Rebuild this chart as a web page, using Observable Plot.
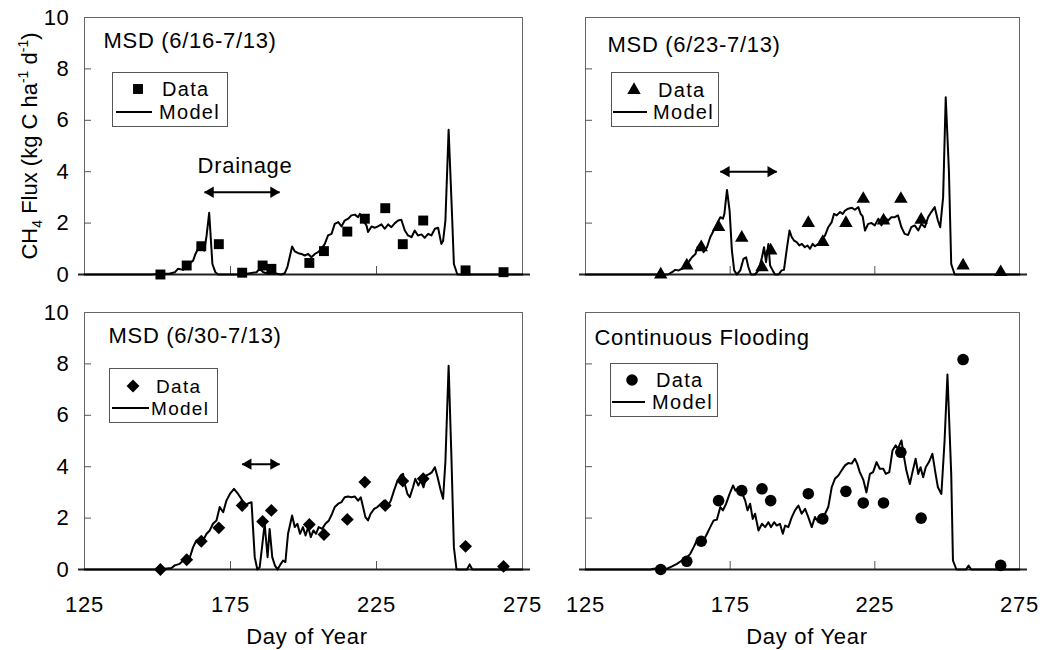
<!DOCTYPE html>
<html>
<head>
<meta charset="utf-8">
<script src="https://cdn.jsdelivr.net/npm/d3@7"></script>
<script src="https://cdn.jsdelivr.net/npm/@observablehq/plot@0.6"></script>
<style>
  body { margin: 0; background: #fff; }
  #chart { position: relative; width: 1040px; height: 650px; background: #fff;
           font-family: "Liberation Sans", Arial, sans-serif; }
  #chart svg.plot { position: absolute; overflow: visible; }
  #chart svg text { letter-spacing: 0.7px; }
  #overlay { position: absolute; left: 0; top: 0; pointer-events: none; }
</style>
</head>
<body>
<div id="chart"></div>
<script>
// ---------------- data ----------------
const sampleDays = [151, 160, 165, 171, 179, 186, 189, 202, 207, 215, 221, 228, 234, 241, 255.5, 268.5];
const yTicks = [0, 2, 4, 6, 8, 10];
const xTicks = [125, 175, 225, 275];
const panelTitles = ["MSD (6/16-7/13)", "MSD (6/23-7/13)", "MSD (6/30-7/13)", "Continuous Flooding"];
const legendLabels = ["Data", "Model"];
const yLabelParts = ["CH", "4", " Flux (kg C ha", "-1", " d", "-1", ")"];
const xLabel = "Day of Year";
const drainLabel = "Drainage";

// measured CH4 flux (kg C ha-1 d-1)
const data616 = [0, 0.35, 1.1, 1.18, 0.07, 0.35, 0.22, 0.45, 0.91, 1.67, 2.17, 2.58, 1.18, 2.1, 0.16, 0.09];
const data623 = [0, 0.35, 1.06, 1.84, 1.43, 0.28, 0.93, 2.0, 1.26, 2.0, 2.94, 2.1, 2.94, 2.13, 0.35, 0.09];
const data630 = [0, 0.38, 1.1, 1.62, 2.49, 1.87, 2.3, 1.75, 1.36, 1.95, 3.4, 2.49, 3.44, 3.53, 0.9, 0.12];
const dataCF  = [0, 0.32, 1.1, 2.68, 3.07, 3.14, 2.68, 2.95, 1.97, 3.04, 2.59, 2.59, 4.56, 2.0, 8.17, 0.16];

// modelled CH4 flux
const modelDays616 = [125,148,151,154,156,157,158.8,160.5,162.2,163,163.9,165,166,166.8,167.7,168.8,169.8,170.8,179,183.9,185,186.2,188,190,192.4,193.6,194.5,196.1,197,198.2,199.3,200.4,201.6,202.7,203.9,205,206.1,207.3,208.4,209.6,210.7,211.9,213,214.1,215.3,216.4,217.6,218.7,219.3,220.4,221.6,222.1,223.3,224.4,225.5,226.7,227.8,229,230.1,231.3,232.4,233.5,234.7,235.8,237,238.1,239.2,240.4,241.5,242.7,243.8,245,246.1,247.2,247.8,248.6,249.7,250.9,251.5,252.7,275];
const modelFlux616 = [0,0,0.03,0.03,0.09,0.22,0.18,0.39,0.54,0.8,1.0,1.13,0.93,1.5,2.4,0.41,0.09,0,0,0.09,0.22,0.09,0.03,0.05,0,0.05,0.3,1.09,0.9,0.83,0.8,0.74,0.8,0.67,0.8,0.87,1.0,1.19,1.52,1.58,1.97,2.04,1.87,2.1,2.17,2.3,2.33,2.23,2.36,2.1,1.9,1.65,1.87,1.82,1.87,1.95,1.78,1.95,1.84,2.0,2.1,2.13,1.71,1.52,1.45,1.71,1.52,1.56,1.43,1.58,1.52,1.78,1.82,1.19,1.3,2.1,5.63,2.23,0.41,0,0];

const modelDays623 = [125,153.5,154.9,156,157.2,158.3,159.5,160.6,161.8,163,163.7,164.7,165.8,167,168.1,169.3,170.4,171.6,172.5,173,173.9,174.8,175.6,176.4,177.3,178.5,179.6,180.5,181.3,182.2,183.6,184.8,186,186.7,187.4,188.2,188.8,189.7,190.5,191.7,192.8,193.6,194.5,195.5,196.3,197.1,198,198.9,199.8,200.8,201.7,202.6,203.5,204.3,205.5,206.6,207.8,208.9,210.1,210.9,211.8,213,213.9,214.7,215.8,217,218.1,219.3,220.1,220.8,221.6,222.7,223.9,225,226.2,227.3,228.4,229.6,230.7,231.9,233,234.2,235.3,236.5,237.6,238.8,240,241.1,242.3,243.4,244.5,245.7,246.8,247.6,248.6,249.5,250.6,251.4,252.6,275];
const modelFlux623 = [0,0,0.09,0.18,0.16,0.22,0.29,0.48,0.67,0.8,1.06,1.19,0.87,1.06,1.45,1.71,1.97,2.23,2.17,2.36,3.29,2.49,0.93,0.16,0,0.16,0.61,0.67,0.29,0,0,0.16,0.67,1.06,0.48,1.19,0.35,0.16,0,0,0.16,0.18,0.93,1.71,1.45,1.32,1.26,1.13,1.19,1.06,1.13,1.0,1.19,1.1,1.19,1.39,1.52,1.84,2.04,2.36,2.3,2.43,2.36,2.49,2.56,2.6,2.52,2.62,2.36,2.26,1.71,1.97,2.0,1.91,2.17,1.91,2.23,2.1,2.23,2.23,2.3,1.84,1.58,1.54,1.84,1.91,1.71,1.97,1.84,2.23,2.43,2.62,2.1,1.84,3.0,6.9,4.05,0.41,0,0];

const modelDays630 = [125,151.3,152.5,154.8,155.9,157.6,158.8,159.9,161.1,162.2,163.3,164.5,165.6,166.8,167.9,169,170.2,171.3,172.5,173.6,174.8,176.2,177.6,178.7,179.9,180.8,182.2,182.7,183.3,184.2,185,185.8,186.7,187.7,188.4,189.3,190.2,191.1,191.9,193,193.8,194.7,196.1,197,197.9,198.8,199.8,200.7,201.6,202.5,203.4,204.3,205.2,206.4,207.5,208.7,209.8,210.7,211.9,213,214.1,215.3,216.4,217.6,218.7,219.6,220.4,221.2,222.1,223,224.2,225.3,226.5,227.6,228.7,229.9,231,232.2,233.3,234.1,234.7,235.6,236.4,237.5,238.3,239.3,240.2,241.1,242.1,243.2,244,245,245.9,247,247.8,248.6,249.7,250.7,251.5,252.4,256,256.9,257.8,275];
const modelFlux630 = [0,0,0.03,0.06,0.16,0.22,0.35,0.42,0.48,0.87,1.13,1.06,1.13,1.39,1.52,1.78,1.91,2.43,2.23,2.68,2.94,3.14,2.94,2.75,2.43,2.56,2.62,1.65,0.48,0,0.09,0.87,1.78,0.48,1.58,0.48,0.16,0,0.16,0.35,0.29,1.39,2.1,1.65,1.78,1.39,1.65,1.32,1.65,1.26,1.52,1.39,1.65,1.58,1.78,1.91,2.17,2.43,2.56,2.62,2.81,2.84,2.81,2.84,2.68,2.81,2.43,2.04,1.91,2.17,2.36,2.43,2.56,2.68,2.43,2.68,3.07,3.46,3.66,3.72,3.33,2.94,2.81,3.2,3.53,3.27,3.46,3.2,3.66,3.72,3.79,3.98,3.6,3.07,2.75,4.2,7.93,4.2,0.87,0,0,0.2,0,0];

const modelDaysCF = [125,147.4,148.6,150.9,153.2,154.9,156.6,158.3,160.1,161.2,162.4,163.5,164.7,165.8,167,168.1,169.3,170.4,171.6,172.5,173.6,174.8,176,176.8,177.9,179,180.2,181,181.9,182.8,183.6,184.8,186,187.1,188.2,189.1,190.2,191.1,192.2,193.2,194,195.1,196.3,197.4,198.6,199.7,200.9,202,203.2,204.3,205.5,206.6,207.8,208.9,210.1,211.2,212.4,213.5,214.7,215.8,217,218.1,218.9,219.8,221,222.1,223.3,224.4,225.6,226.7,227.9,228.8,230,231.1,232.2,233,234.2,235,235.9,237.1,238,239.1,240,240.8,241.7,242.6,243.7,244.9,246,246.8,248,249.1,250.1,251.4,252,253.2,256.5,257.4,258.3,275];
const modelFluxCF = [0,0,0.03,0.05,0.03,0.12,0.22,0.35,0.48,0.61,0.87,1.13,1.0,1.13,1.39,1.65,1.91,1.94,2.43,2.3,2.56,2.94,3.27,3.07,3.2,3.0,2.68,2.3,2.56,1.97,2.17,1.52,1.78,1.65,1.84,1.65,1.84,1.71,1.78,1.39,1.71,1.65,2.04,2.3,2.49,2.17,2.36,2.04,1.65,2.04,1.84,2.04,2.17,2.43,3.2,3.53,3.66,3.85,4.05,4.14,4.12,4.31,4.12,3.79,3.5,3.0,3.72,3.79,4.18,3.92,3.92,3.72,3.79,4.63,4.83,4.7,5.02,4.44,3.85,3.33,3.79,4.31,3.72,3.98,3.59,3.98,4.18,4.5,3.72,3.2,2.94,5.0,7.59,3.72,0.35,0,0,0.15,0,0];

// drainage periods (day of year) and arrow level (flux units)
const drainStart = [166.1, 171.6, 179.0];
const drainEnd   = [191.8, 191.1, 191.8];
const drainLevel = [3.2, 4.0, 4.1];

// ---------------- layout ----------------
const FONT = '"Liberation Sans", Arial, sans-serif';
const panels = [
  {title: 0, days: modelDays616, flux: modelFlux616, obs: data616, symbol: "square",   r: 5.6, drain: 0, label: true,
   left: 0,   top: 0,   width: 540, height: 290, ml: 84, mr: 18, mt: 17, mb: 16, showY: true,  showX: false, tdx: 19, tdy: 23},
  {title: 1, days: modelDays623, flux: modelFlux623, obs: data623, symbol: "triangle", r: 5.0, drain: 1, label: false,
   left: 540, top: 0,   width: 500, height: 290, ml: 45, mr: 21, mt: 17, mb: 16, showY: false, showX: false, tdx: 22, tdy: 27},
  {title: 2, days: modelDays630, flux: modelFlux630, obs: data630, symbol: "diamond2", r: 5.8, drain: 2, label: false,
   left: 0,   top: 290, width: 540, height: 360, ml: 84, mr: 18, mt: 22, mb: 81, showY: true,  showX: true,  tdx: 24, tdy: 23},
  {title: 3, days: modelDaysCF,  flux: modelFluxCF,  obs: dataCF,  symbol: "circle",   r: 5.8, drain: null, label: false,
   left: 540, top: 290, width: 500, height: 360, ml: 45, mr: 21, mt: 22, mb: 81, showY: false, showX: true,  tdx: 9, tdy: 25}
];

const chart = document.getElementById("chart");

panels.forEach(p => {
  const innerW = p.width - p.ml - p.mr;
  const innerH = p.height - p.mt - p.mb;
  const model = p.days.map((d, i) => ({day: d, flux: p.flux[i]}));
  const obs = sampleDays.map((d, i) => ({day: d, flux: p.obs[i]}));
  const marks = [
    Plot.frame({stroke: "#666", strokeWidth: 1}),
    Plot.tickY(yTicks.slice(1, -1), {y: d => d, stroke: "#555", insetRight: innerW - 7}),
    Plot.tickX(xTicks.slice(1, -1), {x: d => d, stroke: "#555", insetTop: innerH - 8}),
    Plot.ruleY([0], {stroke: "#222", strokeWidth: 2, insetLeft: -6, insetRight: -8}),
    Plot.line(model, {x: "day", y: "flux", stroke: "#000", strokeWidth: 2}),
    Plot.dot(obs, {x: "day", y: "flux", symbol: p.symbol, r: p.r, fill: "#000", stroke: "none"}),
    Plot.text([panelTitles[p.title]], {frameAnchor: "top-left", text: d => d, dx: p.tdx, dy: p.tdy,
      textAnchor: "start", lineAnchor: "middle", fontSize: 22, fill: "#000"})
  ];
  if (p.drain != null) {
    const i = p.drain;
    const seg = [{x1: drainStart[i], x2: drainEnd[i], y: drainLevel[i]}];
    marks.push(
      Plot.link(seg, {x1: "x1", x2: "x2", y1: "y", y2: "y", stroke: "#000", strokeWidth: 2}),
      Plot.dot(seg, {x: "x1", y: "y", symbol: "triangle", r: 4.2, rotate: -90, dx: 6, fill: "#000", stroke: "none"}),
      Plot.dot(seg, {x: "x2", y: "y", symbol: "triangle", r: 4.2, rotate: 90, dx: -6, fill: "#000", stroke: "none"})
    );
    if (p.label) {
      marks.push(Plot.text(seg, {x: d => (d.x1 + d.x2) / 2, y: "y", text: () => drainLabel, dy: -26,
        dx: 3, fontSize: 22, fill: "#000", lineAnchor: "middle"}));
    }
  }
  if (p.showY) marks.push(Plot.axisY(yTicks, {tickSize: 0, tickPadding: 15, fontSize: 22, label: null}));
  if (p.showX) marks.push(Plot.axisX(xTicks, {tickSize: 0, tickPadding: 27, fontSize: 22, label: null}));

  const svg = Plot.plot({
    width: p.width, height: p.height,
    marginLeft: p.ml, marginRight: p.mr, marginTop: p.mt, marginBottom: p.mb,
    x: {domain: [125, 275], axis: p.showX ? undefined : null},
    y: {domain: [0, 10], axis: p.showY ? undefined : null},
    style: {fontFamily: FONT, fontSize: "22px", color: "#000", background: "transparent", overflow: "visible"},
    marks
  });
  svg.classList.add("plot");
  svg.style.left = p.left + "px";
  svg.style.top = p.top + "px";
  chart.appendChild(svg);
});

// ---------------- overlay: legends & axis titles ----------------
const ov = d3.select(chart).append("svg").attr("id", "overlay")
  .attr("width", 1040).attr("height", 650)
  .style("font-family", FONT);

const legends = [
  {box: [112, 72, 227, 126], mk: [138, 89],  dataX: 162, line: [116, 152, 112], modelX: 159, type: d3.symbolSquare,   r: 5.6, fs: 20},
  {box: [611, 72, 718, 126], mk: [634, 90],  dataX: 658, line: [613, 647, 112], modelX: 653, type: d3.symbolTriangle, r: 5.0, fs: 20},
  {box: [109, 368, 217, 422], mk: [133, 386], dataX: 156, line: [112, 149, 408], modelX: 151, type: d3.symbolDiamond2, r: 5.8, fs: 19},
  {box: [610, 363, 717, 416], mk: [632, 380], dataX: 656, line: [612, 645, 402], modelX: 652, type: d3.symbolCircle,   r: 5.8, fs: 20}
];
legends.forEach(L => {
  const g = ov.append("g");
  g.append("rect").attr("x", L.box[0] + 0.5).attr("y", L.box[1] + 0.5)
    .attr("width", L.box[2] - L.box[0]).attr("height", L.box[3] - L.box[1])
    .attr("fill", "#fff").attr("stroke", "#555").attr("stroke-width", 1);
  g.append("path").attr("d", d3.symbol().type(L.type).size(Math.PI * L.r * L.r)())
    .attr("transform", `translate(${L.mk[0]},${L.mk[1]})`).attr("fill", "#000");
  g.append("text").attr("x", L.dataX).attr("y", L.mk[1] + 0.37 * L.fs).attr("font-size", L.fs)
    .style("letter-spacing", "1.3px").text(legendLabels[0]);
  g.append("line").attr("x1", L.line[0]).attr("x2", L.line[1]).attr("y1", L.line[2]).attr("y2", L.line[2])
    .attr("stroke", "#000").attr("stroke-width", 2);
  g.append("text").attr("x", L.modelX).attr("y", L.line[2] + 0.35 * L.fs).attr("font-size", L.fs)
    .style("letter-spacing", "1.3px").text(legendLabels[1]);
});

// x axis titles
[307, 807].forEach(cx => {
  ov.append("text").attr("x", cx).attr("y", 644).attr("text-anchor", "middle")
    .attr("font-size", 22).text(xLabel);
});

// y axis title with sub/superscripts
const yt = ov.append("text").attr("transform", "translate(36.5,146) rotate(-90)")
  .attr("text-anchor", "middle").attr("font-size", 22).style("letter-spacing", "0px");
yt.append("tspan").text(yLabelParts[0]);
yt.append("tspan").attr("font-size", 14).attr("dy", 5).text(yLabelParts[1]);
yt.append("tspan").attr("dy", -5).text(yLabelParts[2]);
yt.append("tspan").attr("font-size", 14).attr("dy", -9).text(yLabelParts[3]);
yt.append("tspan").attr("dy", 9).text(yLabelParts[4]);
yt.append("tspan").attr("font-size", 14).attr("dy", -9).text(yLabelParts[5]);
yt.append("tspan").attr("dy", 9).text(yLabelParts[6]);
</script>
</body>
</html>
